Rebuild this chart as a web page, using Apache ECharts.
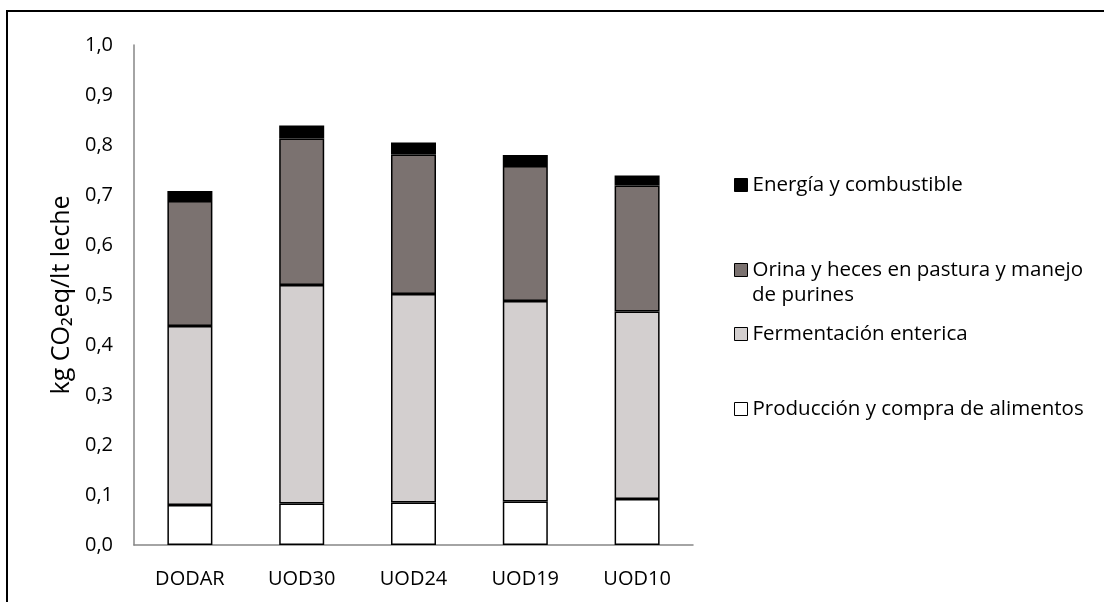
<!DOCTYPE html>
<html>
<head>
<meta charset="utf-8">
<script src="https://cdn.jsdelivr.net/npm/echarts@6/dist/echarts.min.js"></script>
<style>html,body{margin:0;padding:0;background:#fff}#c{width:1104px;height:602px}</style>
</head>
<body>
<div id="c"></div>
<script>
var categories = ['DODAR', 'UOD30', 'UOD24', 'UOD19', 'UOD10'];
var produccion = [0.080, 0.083, 0.085, 0.087, 0.092];
var fermentacion = [0.358, 0.437, 0.417, 0.401, 0.375];
var orina = [0.250, 0.293, 0.279, 0.270, 0.252];
var energia = [0.020, 0.026, 0.024, 0.022, 0.020];
var yTicks = ['0,0','0,1','0,2','0,3','0,4','0,5','0,6','0,7','0,8','0,9','1,0'];
var names = ['Producción y compra de alimentos', 'Fermentación enterica', 'Orina y heces en pastura y manejo', 'Energía y combustible'];

var FONT = 'Open Sans';
var LFS = 20.5;
var chart = echarts.init(document.getElementById('c'));
function bar(name, data, color) {
  return {
    name: name, type: 'bar', stack: 'total', data: data,
    barWidth: 45,
    itemStyle: { color: color, borderColor: '#000', borderWidth: 1.5 },
    emphasis: { disabled: true }
  };
}
function leg(name, center) {
  return {
    data: [name], left: 734, top: center - 13, itemWidth: 13, itemHeight: 13, itemGap: 0,
    icon: 'rect', selectedMode: false, padding: 0,
    textStyle: { fontFamily: FONT, fontSize: LFS, color: '#000', lineHeight: 26 },
    itemStyle: { borderColor: '#000', borderWidth: 1 }
  };
}
chart.setOption({
  animation: false,
  backgroundColor: '#fff',
  grid: { left: 134, top: 45, width: 559, height: 500 },
  legend: [leg(names[3], 185), leg(names[2], 270), leg(names[1], 334), leg(names[0], 409)],
  graphic: [
    { type: 'rect', shape: { x: 7, y: 11, width: 1110, height: 600 }, style: { fill: 'none', stroke: '#000', lineWidth: 2 }, silent: true },
    { type: 'text', left: 752, top: 285, style: { text: 'de purines', fontFamily: FONT, fontSize: LFS, fill: '#000' } }
  ],
  xAxis: {
    type: 'category', data: categories,
    axisLine: { lineStyle: { color: '#868686', width: 1.5 } },
    axisTick: { show: false },
    axisLabel: { fontFamily: FONT, fontSize: 20, color: '#000', margin: 24 }
  },
  yAxis: {
    type: 'value', min: 0, max: 1, interval: 0.1,
    name: 'kg CO₂eq/lt leche',
    nameLocation: 'middle', nameGap: 58, nameRotate: 90,
    nameTextStyle: { fontFamily: FONT, fontSize: 25, color: '#000' },
    axisLine: { show: true, lineStyle: { color: '#868686', width: 1.5 } },
    axisTick: { show: false },
    splitLine: { show: false },
    axisLabel: {
      fontFamily: FONT, fontSize: 20, color: '#000', margin: 21,
      formatter: function (v) { return yTicks[Math.round(v * 10)]; }
    }
  },
  series: [
    bar(names[0], produccion, '#ffffff'),
    bar(names[1], fermentacion, '#d3cfcf'),
    bar(names[2], orina, '#7b7270'),
    bar(names[3], energia, '#000000')
  ]
});
</script>
</body>
</html>
